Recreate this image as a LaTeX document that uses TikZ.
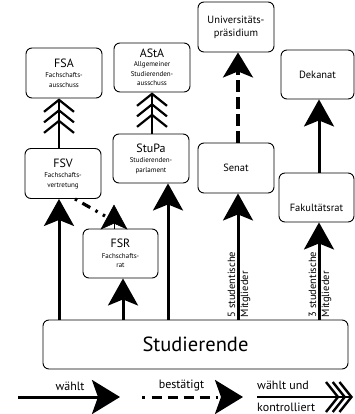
\documentclass[tikz,border=0pt]{standalone}
\usepackage{fontspec}
\setmainfont{PT Sans}
\usetikzlibrary{arrows.meta}
\newcommand\mytitle[1]{{\fontsize{12}{13}\selectfont #1}}
\begin{document}
\begin{tikzpicture}[x=1pt,y=-1pt,
  box/.style={draw, line width=0.9pt, rounded corners=6pt, inner sep=0pt, align=center,
    minimum width=76pt, minimum height=50pt, font=\fontsize{7}{9.5}\selectfont},
  plain/.style={font=\fontsize{10.5}{13}\selectfont},
  arr/.style={line width=3pt, -{Stealth[length=27pt,width=30pt,inset=6pt]}},
  arrL/.style={line width=3pt, -{Stealth[length=28pt,width=34pt,inset=6pt]}},
  dline/.style={line width=3.2pt, dash pattern=on 12pt off 5pt},
  tri/.style={line width=2.6pt, -{Straight Barb[length=12pt,width=30pt,line width=2.2pt,sep=-4pt]
     Straight Barb[length=12pt,width=30pt,line width=2.2pt,sep=-4pt]
     Straight Barb[length=12pt,width=30pt,line width=2.2pt]}},
  triL/.style={line width=2.8pt, -{Straight Barb[length=12pt,width=30pt,line width=2.4pt,sep=-8pt]
     Straight Barb[length=12pt,width=30pt,line width=2.4pt,sep=-8pt]
     Straight Barb[length=12pt,width=30pt,line width=2.4pt]}},
  vlab/.style={rotate=90, inner sep=0.5pt, font=\fontsize{10.5}{12}\selectfont},
  leg/.style={font=\fontsize{12}{14}\selectfont, inner sep=0pt}
]
\useasboundingbox (0,0) rectangle (355,414);

% boxes
\node[box] (fsa) at (64,73) {\mytitle{FSA}\\[1pt]Fachschafts-\\ausschuss};
\node[box, minimum height=49pt] (asta) at (152,67.5) {\mytitle{AStA}\\Allgemeiner\\Studierenden-\\ausschuss};
\node[box, plain] (praes) at (236,27) {Universitäts-\\präsidium};
\node[box, plain, minimum width=73pt, minimum height=49pt] (dek) at (317.5,74.5) {Dekanat};
\node[box] (fsv) at (63,173.5) {\mytitle{FSV}\\[1pt]Fachschafts-\\vertretung};
\node[box, minimum height=49pt] (stupa) at (151,158.5) {\mytitle{StuPa}\\[1pt]Studierenden-\\parlament};
\node[box, minimum width=75pt, minimum height=49pt] (fsr) at (120.5,253.5) {\mytitle{FSR}\\[1pt]Fachschafts-\\rat};
\node[box, plain] (senat) at (236,168) {Senat};
\node[box, minimum width=75pt, minimum height=49pt] (fak) at (316.5,197.5) {};
\node[plain, inner sep=0pt] (faktext) at (316.5,208) {Fakultätsrat};
\node[box, minimum width=305pt, minimum height=49pt, font=\fontsize{20.5}{24}\selectfont] (stud) at (195.5,344.5) {Studierende};

% waehlt arrows
\draw[arr] (stud.north -| 59,0) -- (fsv.south -| 59,0);
\draw[arr] (stud.north -| 123,0) -- (fsr.south -| 123,0);
\draw[arr] (stud.north -| 168,0) -- (stupa.south -| 168,0);
\draw[arr] (stud.north -| 238,0) -- (senat.south -| 238,0);
\draw[arr] (stud.north -| 319,0) -- (fak.south -| 319,0);
\draw[arr] (fak.north -| 319,0) -- (dek.south -| 319,0);

% waehlt und kontrolliert
\draw[tri] (fsv.north -| 59,0) -- (fsa.south -| 59,0);
\draw[tri] (stupa.north -| 152,0) -- (asta.south -| 152,0);

% bestaetigt
\draw[dline, -{Stealth[length=25pt,width=30pt,inset=6pt]}] (senat.north -| 238,0) -- (praes.south -| 238,0);
\coordinate (dend) at (105,216);
\draw[line width=3.2pt, dash pattern=on 2.5pt off 6pt on 9pt off 6pt] (fsv.south -| 75,0) -- (dend);
\draw[line width=0.5pt, -{Stealth[length=25pt,width=27pt,inset=6pt]}] (fsr.north -| 114,0) -- ++(0,-24);

% vertical labels
\node[vlab, anchor=south west] at (236,318) {5 studentische};
\node[vlab, anchor=north west] at (240,318) {Mitglieder};
\node[vlab, anchor=south west] at (317,318) {3 studentische};
\node[vlab, anchor=north west] at (321,318) {Mitglieder};

% legend
\coordinate (l1a) at (18,397);
\coordinate (l1b) at (120,397);
\draw[arrL] (l1a) -- (l1b);
\node[leg, anchor=base] at (70,390) {wählt};

\coordinate (l2a) at (142,397);
\coordinate (l2b) at (243,397);
\draw[arrL, dash pattern=on 2.5pt off 7pt on 10pt off 6pt on 10pt off 6pt on 10pt off 6pt on 10pt off 6pt] (l2a) -- (l2b);
\node[leg, anchor=base] at (181.5,388) {bestätigt};

\coordinate (l3a) at (257,397);
\coordinate (l3b) at (353,397);
\draw[triL] (l3a) -- (l3b);
\node[leg, anchor=base west] at (257,389) {wählt und};
\node[leg, anchor=base west] at (257,411) {kontrolliert};
\end{tikzpicture}
\end{document}
